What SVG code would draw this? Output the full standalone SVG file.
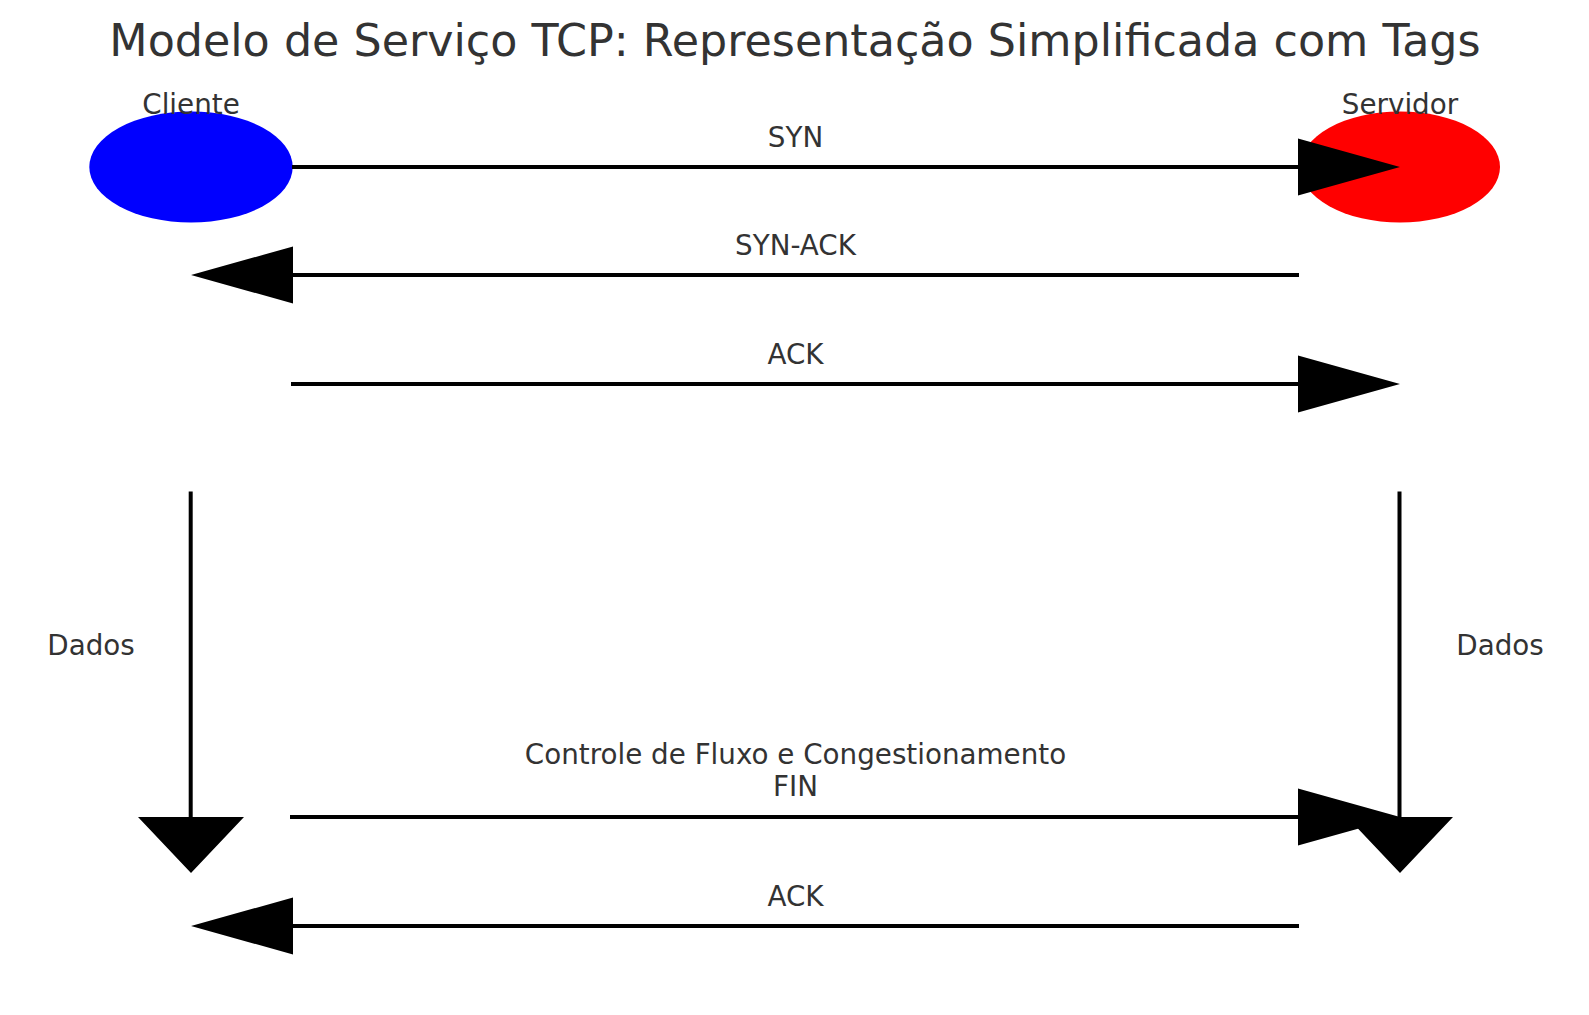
<svg xmlns="http://www.w3.org/2000/svg" width="1589" height="1015" viewBox="0 0 1589 1015">
<style>
text{font-family:"DejaVu Sans",Verdana,sans-serif;fill:#333333;text-anchor:middle}
.t{font-size:44.4px}
.l{font-size:27.78px}
.arr{fill:#000000;stroke:none}
</style>
<rect width="1589" height="1015" fill="#ffffff"/>
<text class="t" x="795" y="56">Modelo de Serviço TCP: Representação Simplificada com Tags</text>
<g id="cliente">
<ellipse cx="191" cy="167" rx="101.7" ry="55.5" fill="#0000ff"/>
<text class="l" x="191" y="114">Cliente</text>
</g>
<g id="servidor">
<ellipse cx="1400" cy="167" rx="100" ry="55.5" fill="#ff0000"/>
<text class="l" x="1400" y="114">Servidor</text>
</g>
<g id="connectors">
<path class="arr" d="M292,165 H1298 V138.5 L1400,167 L1298,195.5 V169 H292 Z"/>
<path class="arr" d="M1299,273 H293 V246.5 L191,275 L293,303.5 V277 H1299 Z"/>
<path class="arr" d="M291,382 H1298 V355.5 L1400,384 L1298,412.5 V386 H291 Z"/>
<path class="arr" d="M290,815 H1298 V788.5 L1400,817 L1298,845.5 V819 H290 Z"/>
<path class="arr" d="M1299,924 H293 V897.5 L191,926 L293,954.5 V928 H1299 Z"/>
<path class="arr" d="M188.7,491.5 V817 H138 L191,873 L244,817 H192.7 V491.5 Z"/>
<path class="arr" d="M1397.5,491.5 V817 H1347 L1400,873 L1453,817 H1401.5 V491.5 Z"/>
<text class="l" x="795.5" y="146.5">SYN</text>
<text class="l" x="795.5" y="254.5">SYN-ACK</text>
<text class="l" x="795.5" y="363.5">ACK</text>
<text class="l" x="795.5" y="764">Controle de Fluxo e Congestionamento</text>
<text class="l" x="795.5" y="796">FIN</text>
<text class="l" x="795.5" y="905.5">ACK</text>
<text class="l" x="91" y="654.5">Dados</text>
<text class="l" x="1500" y="654.5">Dados</text>
</g>
</svg>
